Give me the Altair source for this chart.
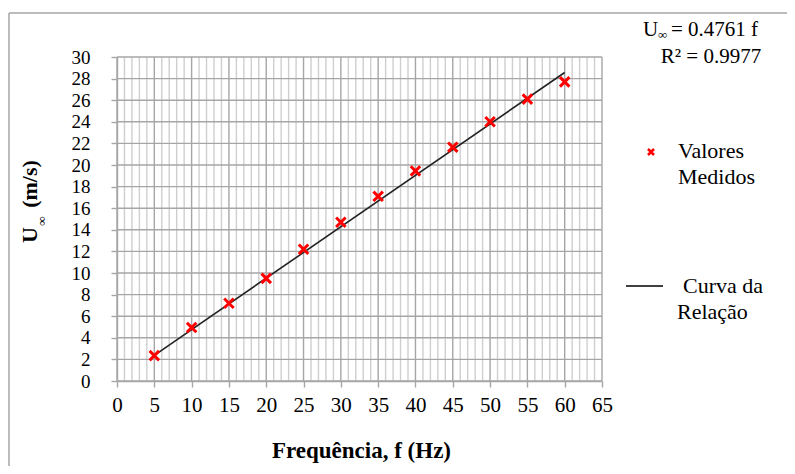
import altair as alt
import pandas as pd

# ---- data ----
freq = [5, 10, 15, 20, 25, 30, 35, 40, 45, 50, 55, 60]
speed = [2.35, 4.95, 7.2, 9.5, 12.2, 14.7, 17.1, 19.45, 21.65, 24.0, 26.1, 27.7]
slope = 0.4761
r_squared = 0.9977
fit_range = [5, 60]
x_ticks = list(range(0, 70, 5))
y_ticks = list(range(0, 32, 2))
x_minor = [v for v in range(0, 66) if v % 5]

W, H = 485, 324
OX, OY = 117, 57  # page position of plot origin (for decoration placement)
SERIF = "Liberation Serif"
GRID_MAJOR = "#a6a6a6"
GRID_MINOR = "#cfcfcf"

xs = alt.Scale(domain=[0, 65], nice=False, zero=False)
ys = alt.Scale(domain=[0, 30], nice=False, zero=False)

pts = pd.DataFrame({"f": freq, "u": speed})
fit = pd.DataFrame({"f": fit_range, "u": [v * slope for v in fit_range]})
one = pd.DataFrame({"a": [0]})

XSHAPE = "M-1,-1L1,1M-1,1L1,-1"

AX = dict(grid=False, title=None, labelFont=SERIF, labelColor="black",
          labelOverlap=False, domainColor=GRID_MAJOR, domainWidth=1.4,
          tickColor=GRID_MAJOR, tickWidth=1.4, tickSize=6)
x_axis = alt.Axis(values=x_ticks, labelPadding=7, labelFlush=False, labelFontSize=21, **AX)
y_axis = alt.Axis(values=y_ticks, labelPadding=21, labelFontSize=19, **AX)
X = alt.X("f:Q", scale=xs, axis=x_axis)
Y = alt.Y("u:Q", scale=ys, axis=y_axis)

minor_v = alt.Chart(pd.DataFrame({"f": x_minor})).mark_rule(
    color=GRID_MINOR, strokeWidth=1.4
).encode(x=X, y=alt.value(0), y2=alt.value(H))

major_v = alt.Chart(pd.DataFrame({"f": x_ticks})).mark_rule(
    color=GRID_MAJOR, strokeWidth=1.4
).encode(x=X, y=alt.value(0), y2=alt.value(H))

horiz = alt.Chart(pd.DataFrame({"u": y_ticks})).mark_rule(
    color=GRID_MAJOR, strokeWidth=1.4
).encode(y=Y, x=alt.value(0), x2=alt.value(W))

line = alt.Chart(fit).mark_line(color="#222222", strokeWidth=1.6).encode(x=X, y=Y)

points = alt.Chart(pts).mark_point(
    shape=XSHAPE, filled=False, color="#ff0000", strokeWidth=3, size=90, opacity=1
).encode(x=X, y=Y)


def txt(s, px, py, size=21, bold=False, align="center", angle=0):
    return alt.Chart(one).mark_text(
        text=s, font=SERIF, fontSize=size, fontWeight="bold" if bold else "normal",
        align=align, baseline="middle", color="black", angle=angle,
    ).encode(x=alt.value(px - OX), y=alt.value(py - OY))


texts = [
    txt("Frequência, f (Hz)", 361.5, 451, size=23, bold=True),
    txt("(m/s)", 30, 184, size=22, bold=True, angle=270),
    txt("U", 30, 235, size=22, bold=True, angle=270),
    txt("∞", 42, 221, size=13, bold=True, angle=270),
    txt("U", 643, 30, size=21, align="left"),
    txt("∞", 658, 35, size=13, align="left"),
    txt("= 0.4761 f", 671, 30, size=21, align="left"),
    txt("R² = 0.9977", 711, 57, size=21),
    txt("Valores", 678, 151, size=22, align="left"),
    txt("Medidos", 678, 177, size=22, align="left"),
    txt("Curva da", 683, 286, size=22, align="left"),
    txt("Relação", 677, 312, size=22, align="left"),
]

legend_pt = alt.Chart(one).mark_point(
    shape=XSHAPE, filled=False, color="#ff0000", strokeWidth=2.5, size=36, opacity=1
).encode(x=alt.value(651 - OX), y=alt.value(152 - OY))

legend_line = alt.Chart(one).mark_rule(color="black", strokeWidth=1.5).encode(
    x=alt.value(626 - OX), x2=alt.value(663 - OX), y=alt.value(286 - OY)
)

border_top = alt.Chart(one).mark_rule(color="#a6a6a6", strokeWidth=1.5).encode(
    x=alt.value(9 - OX), x2=alt.value(800 - OX), y=alt.value(13 - OY)
)
border_left = alt.Chart(one).mark_rule(color="#a6a6a6", strokeWidth=1.5).encode(
    x=alt.value(9 - OX), y=alt.value(13 - OY), y2=alt.value(480 - OY)
)

chart = alt.layer(
    minor_v, major_v, horiz, line, points, legend_pt, legend_line,
    border_top, border_left, *texts,
).properties(
    width=W, height=H,
    autosize=alt.AutoSizeParams(type="none"),
    padding={"left": OX - 8, "top": OY - 8, "right": 787 - OX - W, "bottom": 466 - OY - H},
).configure_view(stroke=None)

chart.save("out.html", embed_options={"renderer": "svg", "actions": False})
